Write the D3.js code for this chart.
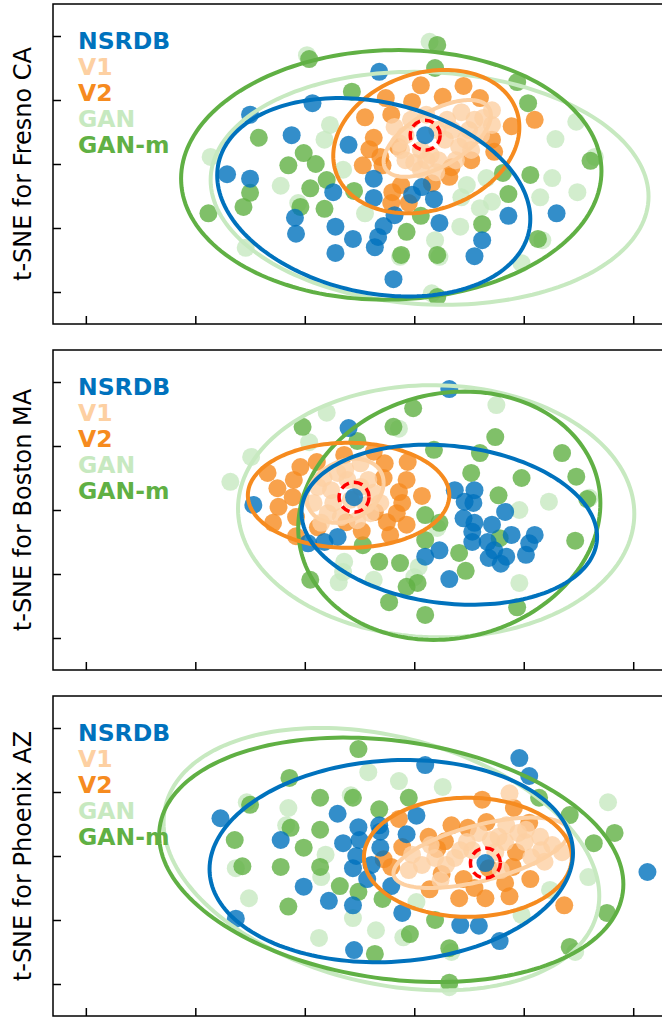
<!DOCTYPE html>
<html>
<head>
<meta charset="utf-8">
<script src="https://cdn.jsdelivr.net/npm/d3@7"></script>
<style>
	body { margin: 0; background: #fff; }
	svg text { font-family: "DejaVu Sans", sans-serif; }
</style>
</head>
<body>
<div id="chart"></div>
<script>
// series names and colours, in legend order
const seriesNames = ['NSRDB', 'V1', 'V2', 'GAN', 'GAN-m'];
const seriesColors = ['#0072bd', '#fdd0a2', '#f68b1f', '#c7e9c0', '#60b044'];
const cities = ['Fresno CA', 'Boston MA', 'Phoenix AZ'];
const xTicks = [-20, -10, 0, 10, 20, 30];
const yTicks = [-20, -10, 0, 10, 20];

// t-SNE embeddings [x, y]
const fresnoNSRDB = [[6.8,14.4],[0.7,9.5],[-5.0,7.7],[-1.2,4.5],[4.0,3.0],[-7.1,-1.6],[-5.0,-2.3],[-0.9,-8.4],[-0.8,-10.9],[2.6,-4.4],[2.8,-9.8],[4.4,-11.7],[2.8,-13.9],[6.3,-2.3],[6.3,-5.3],[7.2,-9.7],[6.7,-11.4],[6.4,-13.0],[8.1,-18.0],[9.8,-4.8],[10.7,-3.6],[11.8,-5.5],[8.2,-8.0],[12.3,-9.2],[16.2,-11.9],[15.5,-14.4],[18.6,-8.1],[23.0,-7.7],[11.0,4.5]];
const fresnoV1 = [[8.2,5.8],[8.6,3.3],[9.2,0.6],[10.0,0.2],[10.6,2.2],[11.5,1.4],[12.2,0.6],[12.8,3.8],[13.0,6.9],[13.5,5.3],[14.1,2.7],[14.3,8.1],[15.0,5.3],[15.5,6.9],[16.1,4.5],[17.1,8.4],[17.1,6.1],[9.7,6.9],[10.6,-0.9],[12.0,-1.3],[13.8,0.6],[15.2,2.2],[16.3,7.2],[11.1,7.7],[12.1,5.3],[9.2,4.5],[8.8,2.2],[11.1,0.6],[14.7,3.8]];
const fresnoV2 = [[10.6,12.3],[9.8,9.7],[7.4,10.3],[5.5,7.3],[7.9,7.7],[6.3,4.1],[5.9,2.3],[8.5,2.7],[5.3,-0.2],[7.1,-0.2],[8.8,-3.3],[8.0,-4.4],[7.9,-6.1],[9.5,-6.1],[14.5,12.2],[12.6,10.5],[16.0,10.3],[21.0,6.9],[18.9,5.9],[17.1,3.8],[17.3,1.9],[15.2,0.6],[6.9,1.1],[13.2,-2.0],[13.4,-0.5],[11.6,-3.0]];
const fresnoGAN = [[0.2,17.0],[11.4,19.1],[2.3,6.1],[1.8,3.8],[-8.6,1.1],[-2.2,-3.4],[-0.6,-6.1],[-5.4,-13.1],[3.5,-0.9],[5.5,-7.7],[11.9,-11.9],[12.3,-14.5],[14.2,-9.8],[14.8,-3.3],[14.3,-5.2],[16.0,-6.9],[17.1,-5.9],[16.6,-2.2],[22.6,-2.2],[21.5,-5.2],[24.9,-4.4],[26.5,1.1],[21.7,-11.9],[19.8,-15.5],[11.6,-20.2],[8.7,-14.5],[24.8,6.6],[22.9,3.9]];
const fresnoGANm = [[0.4,16.4],[12.1,18.6],[11.9,15.0],[4.3,11.3],[19.4,12.8],[20.4,9.5],[-4.2,4.1],[-0.1,1.7],[-1.5,-0.2],[1.0,0.0],[2.0,-2.5],[0.5,-3.8],[-5.0,-4.5],[-5.6,-6.7],[-8.8,-7.7],[-0.4,-6.7],[1.8,-7.0],[4.5,-4.2],[9.3,-10.6],[8.8,-14.2],[10.6,-8.1],[16.2,-9.4],[18.6,-4.7],[18.1,-1.4],[20.6,-1.7],[26.1,0.5],[21.3,-11.7],[12.1,-20.8],[12.1,-14.2]];

const bostonNSRDB = [[-4.7,0.8],[4.0,12.8],[0.3,-5.2],[1.8,-5.0],[3.0,-4.2],[13.2,18.9],[13.7,3.1],[15.5,3.1],[14.6,1.3],[15.4,1.1],[18.3,-0.3],[14.5,-1.3],[15.5,-2.0],[15.3,-3.4],[17.1,-2.3],[18.9,-3.9],[21.0,-3.9],[20.5,-5.2],[15.3,-5.0],[16.7,-5.0],[17.3,-6.3],[16.8,-7.5],[18.4,-7.3],[17.9,-8.4],[20.2,-7.0],[12.3,-6.3],[11.0,-7.3],[13.2,-10.8],[4.5,2.0]];
const bostonV1 = [[5.1,7.3],[3.0,5.8],[1.2,3.6],[0.8,1.1],[2.1,-0.5],[3.3,-1.1],[5.8,4.7],[6.3,2.7],[6.9,1.1],[4.8,-1.6],[2.4,3.1],[2.6,1.1],[5.1,3.6],[6.0,-0.5],[3.9,4.7],[1.5,-2.0],[3.7,6.3],[4.2,1.6],[1.7,5.0],[5.6,0.8]];
const bostonV2 = [[-3.4,5.8],[-2.5,3.4],[-2.4,0.5],[-2.9,-2.0],[-1.1,2.0],[-1.0,4.7],[-0.4,6.7],[-0.8,-4.1],[-0.8,-1.1],[1.1,7.5],[3.6,8.6],[6.3,9.1],[7.3,7.3],[9.4,7.5],[7.2,5.0],[9.3,4.7],[8.6,2.8],[10.7,2.2],[8.9,1.1],[8.4,-0.5],[6.4,-0.3],[7.5,-1.9],[9.3,-2.3],[5.2,-3.3],[7.8,-3.9],[3.8,-1.9],[1.2,-2.7]];
const bostonGAN = [[-6.8,4.4],[-4.9,8.3],[0.4,10.6],[2.0,15.2],[17.5,16.4],[22.3,1.3],[19.6,0.0],[10.4,-8.9],[6.3,-10.9],[3.1,-11.3],[3.6,-8.1],[3.5,-9.7],[19.6,-11.4],[10.0,-10.5],[12.1,-2.8],[8.6,12.7],[26.0,1.9]];
const bostonGANm = [[-0.2,13.0],[4.8,10.8],[9.9,15.9],[8.1,13.0],[17.4,11.4],[11.8,9.4],[16.0,8.9],[23.5,8.9],[15.2,5.8],[19.8,5.0],[24.8,5.2],[25.8,1.7],[17.7,2.3],[24.7,-4.8],[11.0,-0.8],[12.3,-2.0],[11.0,-4.7],[17.8,-4.4],[14.1,-6.7],[14.7,-9.5],[6.8,-8.1],[8.7,-8.3],[10.3,-11.4],[9.3,-12.0],[7.7,-14.4],[11.0,-16.4],[19.4,-15.2],[0.5,-10.9],[5.3,-5.5]];

const phoenixNSRDB = [[-7.7,5.9],[-2.2,2.5],[-0.1,-4.8],[2.2,-7.0],[-6.3,-9.8],[11.0,14.2],[3.0,6.6],[4.9,4.5],[6.9,3.8],[10.2,6.3],[9.3,3.4],[3.5,2.0],[5.0,2.5],[6.9,1.3],[4.7,0.0],[4.4,-1.9],[6.1,-1.4],[5.7,-3.6],[7.9,-4.7],[4.4,-7.7],[8.9,-8.9],[4.5,-14.7],[6.8,4.8],[14.2,-10.8],[15.9,-10.9],[17.8,-13.3],[19.6,15.3],[20.5,12.5],[31.3,-2.5],[16.5,-1.1]];
const phoenixV1 = [[18.7,9.8],[21.5,3.0],[22.6,1.7],[23.5,0.6],[21.9,-0.9],[20.7,-0.2],[17.7,3.0],[18.3,2.2],[15.3,0.9],[19.5,3.6],[13.7,-0.3],[9.8,0.2],[10.7,-1.4],[9.5,-2.2],[11.9,-0.3],[14.8,2.2],[17.4,0.6],[20.1,2.2],[15.9,3.6],[18.4,4.8],[12.9,-1.4],[14.2,0.9],[11.5,1.7],[17.0,2.5],[21.6,0.9],[12.4,-3.8],[17.9,-2.2],[20.2,4.1]];
const phoenixV2 = [[16.2,8.8],[19.1,7.5],[8.6,5.8],[13.4,4.8],[14.9,4.4],[16.6,5.3],[20.5,5.2],[11.3,3.0],[12.8,2.3],[12.1,1.1],[19.3,0.6],[8.9,1.4],[7.9,-1.7],[12.5,-2.8],[14.5,-3.6],[15.5,-5.0],[16.8,-1.9],[18.3,-4.2],[19.0,-1.7],[20.6,-3.6],[11.4,-5.2],[14.1,-6.6],[16.5,-6.6],[18.7,-6.3],[23.7,-7.7],[7.2,-0.5]];
const phoenixGAN = [[-5.3,8.4],[-1.5,7.5],[-1.7,4.8],[1.9,0.2],[-6.3,-1.9],[1.5,-3.3],[-5.1,-6.6],[1.3,-12.8],[5.8,13.1],[8.6,11.7],[12.6,10.8],[4.2,9.5],[4.4,-9.7],[6.5,-11.6],[9.0,-12.7],[10.2,-7.2],[27.7,8.4],[25.9,-3.3],[22.4,-5.3],[24.7,-15.0],[13.4,-15.0],[13.2,-20.5],[19.8,-9.2]];
const phoenixGANm = [[-5.0,8.0],[-1.4,12.2],[-1.3,4.4],[-6.4,2.5],[1.4,9.1],[1.4,4.1],[-0.1,1.3],[-5.7,-1.6],[-2.2,-1.7],[1.4,-1.7],[-1.5,-7.9],[4.9,16.7],[4.4,9.1],[9.5,9.1],[6.8,7.3],[3.2,-4.7],[4.9,-5.6],[7.1,-6.7],[9.6,-12.2],[6.4,-15.3],[11.9,-10.0],[21.4,9.1],[24.2,6.4],[26.4,2.0],[28.3,3.6],[27.6,-8.9],[24.2,-14.2],[13.2,-14.4],[13.2,-19.8]];

// spread ellipses [cx, cy, sx, sy, rho], one per series in legend order
const fresnoEllipses = [[6.3,-5.2,14.3,15.5,-0.22],[12.1,4.0,4.9,6.0,0.6],[11.1,3.5,8.5,11.2,0.2],[11.4,-3.8,20.0,18.2,-0.07],[7.9,-1.7,19.2,19.5,0.03]];
const bostonEllipses = [[13.2,-2.3,13.5,12.5,-0.15],[3.7,3.0,3.5,5.0,0.25],[4.0,2.3,9.2,8.2,0],[12.0,-0.2,18.1,19.7,-0.02],[13.2,-0.9,13.8,19.4,0.1]];
const phoenixEllipses = [[7.9,-0.8,16.6,15.8,0.08],[16.1,0.5,8.0,5.5,0.58],[14.9,-0.2,9.5,9.3,0],[7.0,-0.5,19.9,20.5,-0.28],[7.9,-0.6,21.2,19.1,-0.2]];

// highlighted sample (red dashed ring)
const highlights = [[11.0,4.5],[4.5,2.0],[16.5,-1.1]];

const panels = [
	{city: cities[0], series: [fresnoNSRDB, fresnoV1, fresnoV2, fresnoGAN, fresnoGANm], ellipses: fresnoEllipses, mark: highlights[0]},
	{city: cities[1], series: [bostonNSRDB, bostonV1, bostonV2, bostonGAN, bostonGANm], ellipses: bostonEllipses, mark: highlights[1]},
	{city: cities[2], series: [phoenixNSRDB, phoenixV1, phoenixV2, phoenixGAN, phoenixGANm], ellipses: phoenixEllipses, mark: highlights[2]}
];

const width = 662, height = 1017;
const left = 53, right = 677;
const panelH = 320, panelStep = 346, firstTop = 4;
// draw order: back to front
const pointOrder = [3, 4, 2, 1, 0];
const ellipseOrder = [3, 4, 1, 2, 0];

const svg = d3.select('#chart').append('svg')
	.attr('width', width)
	.attr('height', height);

const x = d3.scaleLinear().domain([-23, 34]).range([left, right]);

function ellipsePoints([cx, cy, sx, sy, rho]) {
	const k = Math.sqrt(1 - rho * rho);
	return d3.range(0, 360, 2).map(a => {
		const t = a * Math.PI / 180;
		return [cx + sx * Math.cos(t), cy + sy * (rho * Math.cos(t) + k * Math.sin(t))];
	});
}

panels.forEach((p, i) => {
	const top = firstTop + i * panelStep;
	const y = d3.scaleLinear().domain([-25, 25]).range([top + panelH, top]);
	const g = svg.append('g').attr('class', 'panel');

	const clipId = 'clip' + i;
	svg.append('clipPath').attr('id', clipId)
		.append('rect')
		.attr('x', left).attr('y', top)
		.attr('width', right - left).attr('height', panelH);

	const plot = g.append('g').attr('clip-path', `url(#${clipId})`);

	pointOrder.forEach(s => {
		plot.append('g')
			.selectAll('circle')
			.data(p.series[s])
			.join('circle')
			.attr('cx', d => x(d[0]))
			.attr('cy', d => y(d[1]))
			.attr('r', 9)
			.attr('fill', seriesColors[s])
			.attr('fill-opacity', 0.8);
	});

	const line = d3.line()
		.x(d => x(d[0]))
		.y(d => y(d[1]))
		.curve(d3.curveLinearClosed);

	ellipseOrder.forEach(s => {
		plot.append('path')
			.attr('d', line(ellipsePoints(p.ellipses[s])))
			.attr('fill', 'none')
			.attr('stroke', seriesColors[s])
			.attr('stroke-width', 4);
	});

	plot.append('circle')
		.attr('cx', x(p.mark[0]))
		.attr('cy', y(p.mark[1]))
		.attr('r', 15)
		.attr('fill', 'none')
		.attr('stroke', '#ff0000')
		.attr('stroke-width', 3.5)
		.attr('stroke-dasharray', '9,5');

	// frame
	g.append('rect')
		.attr('x', left).attr('y', top)
		.attr('width', right - left).attr('height', panelH)
		.attr('fill', 'none')
		.attr('stroke', '#000')
		.attr('stroke-width', 1.5);

	// inward ticks, no labels
	g.append('g')
		.attr('transform', `translate(0,${top + panelH})`)
		.call(d3.axisBottom(x).tickValues(xTicks).tickSize(-8).tickSizeOuter(0).tickFormat(''))
		.call(a => a.select('.domain').remove())
		.call(a => a.selectAll('line').attr('stroke-width', 1.5));

	g.append('g')
		.attr('transform', `translate(${left},0)`)
		.call(d3.axisLeft(y).tickValues(yTicks).tickSize(-8).tickSizeOuter(0).tickFormat(''))
		.call(a => a.select('.domain').remove())
		.call(a => a.selectAll('line').attr('stroke-width', 1.5));

	g.append('text')
		.attr('transform', `translate(31,${top + panelH / 2}) rotate(-90)`)
		.attr('text-anchor', 'middle')
		.attr('font-size', 24)
		.attr('fill', '#000')
		.text('t-SNE for ' + p.city);

	// legend as coloured labels
	g.append('g')
		.selectAll('text')
		.data(seriesNames)
		.join('text')
		.attr('x', 78)
		.attr('y', (d, k) => top + 45 + k * 26)
		.attr('font-size', 23.5)
		.attr('font-weight', 'bold')
		.attr('fill', (d, k) => seriesColors[k])
		.text(d => d);
});
</script>
</body>
</html>
